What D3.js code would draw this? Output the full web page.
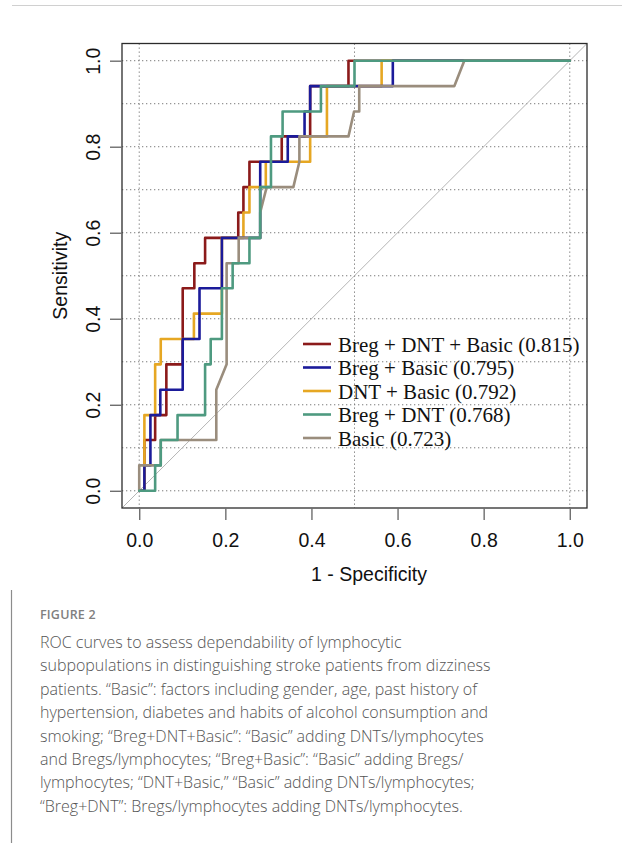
<!DOCTYPE html>
<html>
<head>
<meta charset="utf-8">
<script src="https://d3js.org/d3.v7.min.js"></script>
<style>
  body { margin: 0; background: #fff; }
  svg { display: block; }
</style>
</head>
<body>
<div id="chart"></div>
<script>
// model names and AUC values (legend order)
var models = ["Breg + DNT + Basic", "Breg + Basic", "DNT + Basic", "Breg + DNT", "Basic"];
var aucs = [0.815, 0.795, 0.792, 0.768, 0.723];
var colors = ["#8b1a1a", "#1b1b9a", "#e6a723", "#4e9a80", "#9a8d7d"];

// ROC points: x = 1 - specificity, y = sensitivity
var fprBregDntBasic = [0, 0.012, 0.012, 0.037, 0.037, 0.063, 0.063, 0.101, 0.101, 0.128, 0.128, 0.153, 0.153, 0.230, 0.230, 0.242, 0.242, 0.256, 0.256, 0.331, 0.331, 0.397, 0.397, 0.486, 0.486, 1];
var tprBregDntBasic = [0, 0, 0.118, 0.118, 0.176, 0.176, 0.294, 0.294, 0.471, 0.471, 0.529, 0.529, 0.588, 0.588, 0.647, 0.647, 0.706, 0.706, 0.765, 0.765, 0.824, 0.824, 0.941, 0.941, 1, 1];

var fprBregBasic = [0, 0.012, 0.012, 0.026, 0.026, 0.049, 0.049, 0.101, 0.101, 0.140, 0.140, 0.192, 0.192, 0.281, 0.281, 0.345, 0.345, 0.384, 0.384, 0.397, 0.397, 0.589, 0.589, 1];
var tprBregBasic = [0, 0, 0.059, 0.059, 0.176, 0.176, 0.235, 0.235, 0.353, 0.353, 0.471, 0.471, 0.588, 0.588, 0.765, 0.765, 0.824, 0.824, 0.882, 0.882, 0.941, 0.941, 1, 1];

var fprDntBasic = [0, 0.012, 0.012, 0.037, 0.037, 0.050, 0.050, 0.127, 0.127, 0.192, 0.192, 0.242, 0.242, 0.256, 0.256, 0.294, 0.294, 0.397, 0.397, 0.436, 0.436, 0.563, 0.563, 1];
var tprDntBasic = [0, 0, 0.176, 0.176, 0.294, 0.294, 0.353, 0.353, 0.412, 0.412, 0.588, 0.588, 0.647, 0.647, 0.706, 0.706, 0.765, 0.765, 0.824, 0.824, 0.941, 0.941, 1, 1];

var fprBregDnt = [0, 0.037, 0.037, 0.050, 0.050, 0.089, 0.089, 0.153, 0.153, 0.166, 0.166, 0.192, 0.192, 0.217, 0.217, 0.256, 0.256, 0.281, 0.281, 0.306, 0.306, 0.333, 0.333, 0.422, 0.422, 0.500, 0.500, 1];
var tprBregDnt = [0, 0, 0.059, 0.059, 0.118, 0.118, 0.176, 0.176, 0.294, 0.294, 0.353, 0.353, 0.471, 0.471, 0.529, 0.529, 0.588, 0.588, 0.706, 0.706, 0.824, 0.824, 0.882, 0.882, 0.941, 0.941, 1, 1];

var fprBasic = [0, 0, 0.050, 0.050, 0.179, 0.179, 0.203, 0.203, 0.231, 0.231, 0.281, 0.281, 0.296, 0.358, 0.372, 0.372, 0.486, 0.499, 0.511, 0.511, 0.732, 0.755, 1];
var tprBasic = [0, 0.059, 0.059, 0.118, 0.118, 0.235, 0.294, 0.529, 0.529, 0.588, 0.588, 0.647, 0.706, 0.706, 0.765, 0.824, 0.824, 0.882, 0.882, 0.941, 0.941, 1, 1];

var tickValues = [0, 0.2, 0.4, 0.6, 0.8, 1.0];
var gridY = [0, 0.1, 0.2, 0.3, 0.4, 0.5, 0.6, 0.7, 0.8, 0.9, 1.0];
var gridX = [0, 0.5, 1.0];

var captionTitle = "FIGURE 2";
var captionLines = [
    "ROC curves to assess dependability of lymphocytic",
    "subpopulations in distinguishing stroke patients from dizziness",
    "patients. \u201cBasic\u201d: factors including gender, age, past history of",
    "hypertension, diabetes and habits of alcohol consumption and",
    "smoking; \u201cBreg+DNT+Basic\u201d: \u201cBasic\u201d adding DNTs/lymphocytes",
    "and Bregs/lymphocytes; \u201cBreg+Basic\u201d: \u201cBasic\u201d adding Bregs/",
    "lymphocytes; \u201cDNT+Basic,\u201d \u201cBasic\u201d adding DNTs/lymphocytes;",
    "\u201cBreg+DNT\u201d: Bregs/lymphocytes adding DNTs/lymphocytes."
];

var curves = [
    { fpr: fprBregDntBasic, tpr: tprBregDntBasic, i: 0 },
    { fpr: fprBregBasic, tpr: tprBregBasic, i: 1 },
    { fpr: fprDntBasic, tpr: tprDntBasic, i: 2 },
    { fpr: fprBregDnt, tpr: tprBregDnt, i: 3 },
    { fpr: fprBasic, tpr: tprBasic, i: 4 }
];
// drawing order (later ones sit on top)
var drawOrder = [0, 2, 1, 4, 3];

var W = 622, H = 843;
var box = { left: 122, right: 587, top: 43.5, bottom: 508 };
var axisFont = "'Liberation Sans', Arial, Helvetica, sans-serif";

var svg = d3.select("#chart").append("svg")
    .attr("width", W)
    .attr("height", H);

svg.append("rect").attr("width", W).attr("height", H).attr("fill", "#fff");

// page frame lines
svg.append("line")
    .attr("x1", 12).attr("x2", W).attr("y1", 5.5).attr("y2", 5.5)
    .attr("stroke", "#d0d0d0").attr("stroke-width", 1);
svg.append("line")
    .attr("x1", 11.5).attr("x2", 11.5).attr("y1", 590).attr("y2", H)
    .attr("stroke", "#8c8c8c").attr("stroke-width", 1.2);

var x = d3.scaleLinear().domain([-0.04, 1.04]).range([box.left, box.right]);
var y = d3.scaleLinear().domain([-0.04, 1.04]).range([box.bottom, box.top]);

// grid
svg.append("g").selectAll("line")
    .data(gridY)
    .enter().append("line")
    .attr("x1", box.left).attr("x2", box.right)
    .attr("y1", function(d) { return y(d); })
    .attr("y2", function(d) { return y(d); })
    .attr("stroke", "#7a7a7a").attr("stroke-width", 1)
    .attr("stroke-dasharray", "1.3,2.7");

svg.append("g").selectAll("line")
    .data(gridX)
    .enter().append("line")
    .attr("y1", box.top).attr("y2", box.bottom)
    .attr("x1", function(d) { return x(d); })
    .attr("x2", function(d) { return x(d); })
    .attr("stroke", "#7a7a7a").attr("stroke-width", 1)
    .attr("stroke-dasharray", "1.3,2.7");

// reference diagonal
svg.append("line")
    .attr("x1", x(-0.04)).attr("y1", y(-0.04))
    .attr("x2", x(1.04)).attr("y2", y(1.04))
    .attr("stroke", "#b5b5b5").attr("stroke-width", 1);

// ROC curves
var line = d3.line()
    .x(function(d) { return x(d[0]); })
    .y(function(d) { return y(d[1]); });

drawOrder.forEach(function(k) {
    var c = curves[k];
    var pts = c.fpr.map(function(v, j) { return [v, c.tpr[j]]; });
    svg.append("path")
        .datum(pts)
        .attr("d", line)
        .attr("fill", "none")
        .attr("stroke", colors[c.i])
        .attr("stroke-width", 2.6)
        .attr("stroke-linejoin", "round")
        .attr("stroke-linecap", "round");
});

// plot box
svg.append("rect")
    .attr("x", box.left).attr("y", box.top)
    .attr("width", box.right - box.left)
    .attr("height", box.bottom - box.top)
    .attr("fill", "none")
    .attr("stroke", "#2b2b2b").attr("stroke-width", 1.3);

// axes
var xAxis = svg.append("g")
    .attr("transform", "translate(0," + box.bottom + ")")
    .call(d3.axisBottom(x).tickValues(tickValues).tickSize(12).tickPadding(13).tickFormat(d3.format(".1f")));
xAxis.select(".domain").remove();
xAxis.selectAll("line").attr("stroke", "#6e6e6e").attr("stroke-width", 1.4);
xAxis.selectAll("text")
    .style("font-family", axisFont).style("font-size", "19.5px").attr("fill", "#111");

var yAxis = svg.append("g")
    .attr("transform", "translate(" + box.left + ",0)")
    .call(d3.axisLeft(y).tickValues(tickValues).tickSize(12).tickFormat(d3.format(".1f")));
yAxis.select(".domain").remove();
yAxis.selectAll("line").attr("stroke", "#6e6e6e").attr("stroke-width", 1.4);
yAxis.selectAll("text")
    .attr("transform", "rotate(-90)")
    .attr("x", 0).attr("y", -22).attr("dy", 0)
    .attr("text-anchor", "middle")
    .style("font-family", axisFont).style("font-size", "19.5px").attr("fill", "#111");

// axis titles
svg.append("text")
    .attr("x", 369).attr("y", 581)
    .attr("text-anchor", "middle")
    .style("font-family", axisFont).style("font-size", "19.5px").attr("fill", "#111")
    .text("1 - Specificity");

svg.append("text")
    .attr("transform", "translate(67," + y(0.5) + ") rotate(-90)")
    .attr("text-anchor", "middle")
    .style("font-family", axisFont).style("font-size", "19.5px").attr("fill", "#111")
    .text("Sensitivity");

// legend
var legend = svg.append("g").attr("transform", "translate(303,344)");
var rows = legend.selectAll("g")
    .data(models)
    .enter().append("g")
    .attr("transform", function(d, i) { return "translate(0," + (i * 23.5) + ")"; });
rows.append("line")
    .attr("x1", 0).attr("x2", 28).attr("y1", 0).attr("y2", 0)
    .attr("stroke", function(d, i) { return colors[i]; })
    .attr("stroke-width", 2.6);
rows.append("text")
    .attr("x", 35).attr("y", 7.5)
    .style("font-family", "'Liberation Serif', 'Times New Roman', serif")
    .style("font-size", "21px").attr("fill", "#111")
    .text(function(d, i) { return d + " (" + aucs[i].toFixed(3) + ")"; });

// caption
svg.append("text")
    .attr("x", 40).attr("y", 619)
    .style("font-family", "'Open Sans', sans-serif")
    .style("font-size", "12.5px").style("font-weight", 600)
    .style("letter-spacing", "0.2px")
    .attr("fill", "#808080")
    .text(captionTitle);

svg.append("g").selectAll("text")
    .data(captionLines)
    .enter().append("text")
    .attr("x", 40)
    .attr("y", function(d, i) { return 648 + i * 23.4; })
    .style("font-family", "'Open Sans', sans-serif")
    .style("font-size", "16px").style("font-weight", 300)
    .attr("fill", "#555")
    .text(function(d) { return d; });
</script>
</body>
</html>
